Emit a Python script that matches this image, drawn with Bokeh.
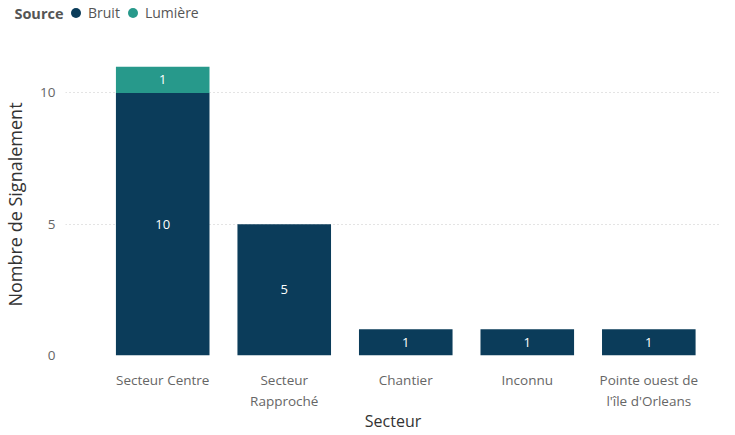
from bokeh.plotting import figure
from bokeh.layouts import column
from bokeh.models import ColumnDataSource, Range1d, FixedTicker, Legend, LegendItem
from bokeh.core.properties import value
from bokeh.embed import file_html
from bokeh.resources import INLINE

secteurs = ["Secteur Centre", "Secteur\nRapproché", "Chantier", "Inconnu", "Pointe ouest de\nl'île d'Orleans"]
bruit = [10, 5, 1, 1, 1]
lumiere = [1, 0, 0, 0, 0]
y_ticks = [0, 5, 10]
legend_title = "Source"
series_names = ["Bruit", "Lumière"]

C_BRUIT = "#0B3C5A"
C_LUM = "#27998B"
FONT = "Open Sans"

xs = list(range(len(secteurs)))

p = figure(frame_width=655, frame_height=302, output_backend="svg", toolbar_location=None,
           x_range=Range1d(-0.8, len(secteurs) - 1 + 0.59), y_range=Range1d(0, 11.5),
           min_border_left=57, min_border_right=7, min_border_top=27, min_border_bottom=0)
p.outline_line_color = None
p.background_fill_color = "white"
p.border_fill_color = "white"

src_b = ColumnDataSource(dict(x=xs, top=bruit, bottom=[0] * len(xs), mid=[b / 2 for b in bruit],
                              lab=[str(v) for v in bruit]))
p.vbar(x="x", top="top", bottom="bottom", width=0.77, source=src_b, fill_color=C_BRUIT, line_color=None)
p.text(x="x", y="mid", text="lab", source=src_b, text_color="white", text_font=value(FONT),
       text_font_size="13px", text_align="center", text_baseline="middle")

lx = [x for x, l in zip(xs, lumiere) if l > 0]
lb = [b for b, l in zip(bruit, lumiere) if l > 0]
lt = [b + l for b, l in zip(bruit, lumiere) if l > 0]
ll = [l for l in lumiere if l > 0]
src_l = ColumnDataSource(dict(x=lx, top=lt, bottom=lb, mid=[(a + b) / 2 for a, b in zip(lb, lt)],
                              lab=[str(v) for v in ll]))
p.vbar(x="x", top="top", bottom="bottom", width=0.77, source=src_l, fill_color=C_LUM, line_color=None)
p.text(x="x", y="mid", text="lab", source=src_l, text_color="white", text_font=value(FONT),
       text_font_size="13px", text_align="center", text_baseline="middle")

# axes
p.xaxis.ticker = FixedTicker(ticks=xs)
p.xaxis.major_label_overrides = {i: s for i, s in enumerate(secteurs)}
p.xaxis.axis_label = "Secteur"
p.yaxis.ticker = FixedTicker(ticks=y_ticks)
p.yaxis.axis_label = "Nombre de Signalement"
for ax in (p.xaxis, p.yaxis):
    ax.axis_line_color = None
    ax.major_tick_line_color = None
    ax.minor_tick_line_color = None
    ax.major_tick_out = 0
    ax.major_tick_in = 0
    ax.major_label_text_font = FONT
    ax.major_label_text_font_size = "13.5px"
    ax.major_label_text_color = "#666666"
    ax.axis_label_text_font = FONT
    ax.axis_label_text_font_style = "normal"
    ax.axis_label_text_color = "#333333"
p.xaxis.axis_label_text_font_size = "16px"
p.yaxis.axis_label_text_font_size = "18px"
p.xaxis.major_label_standoff = 15
p.xaxis.axis_label_standoff = -3
p.yaxis.major_label_standoff = 10
p.yaxis.axis_label_standoff = 10

p.xgrid.grid_line_color = None
p.ygrid.grid_line_color = "#C8C8C8"
p.ygrid.grid_line_dash = "1 3"
p.ygrid.grid_line_width = 1

# header with legend (frame aligned with the main frame by the column layout)
h = figure(width=719, height=26, output_backend="svg", toolbar_location=None,
           x_range=Range1d(0, 1), y_range=Range1d(0, 1), min_border=0)
h.xaxis.visible = False
h.grid.visible = False
h.outline_line_color = None
# the legend title "Source" is drawn as the header's only y-axis tick label (outside the frame, not clipped)
h.yaxis.ticker = FixedTicker(ticks=[0.5])
h.yaxis.major_label_overrides = {0.5: legend_title}
h.yaxis.axis_line_color = None
h.yaxis.major_tick_line_color = None
h.yaxis.minor_tick_line_color = None
h.yaxis.major_tick_out = 0
h.yaxis.major_tick_in = 0
h.yaxis.major_label_standoff = 2
h.yaxis.major_label_text_font = FONT
h.yaxis.major_label_text_font_size = "14.5px"
h.yaxis.major_label_text_font_style = "bold"
h.yaxis.major_label_text_color = "#555555"

# hidden dummy points (outside the header's range) so the legend can draw its circles
r1 = h.scatter([-1], [-1], marker="circle", size=10, fill_color=C_BRUIT, line_color=None)
r2 = h.scatter([-1], [-1], marker="circle", size=10, fill_color=C_LUM, line_color=None)

legend = Legend(items=[LegendItem(label=series_names[0], renderers=[r1]),
                       LegendItem(label=series_names[1], renderers=[r2])],
                orientation="horizontal", location=(-2, 1), padding=0, margin=0, spacing=0,
                glyph_width=25, glyph_height=25, label_height=20, label_standoff=0,
                label_text_font=FONT, label_text_font_size="14px", label_text_color="#555555",
                label_text_baseline="middle",
                background_fill_alpha=0, border_line_color=None)
h.add_layout(legend, "center")

open("out.html", "w").write(file_html(column(h, p, spacing=0), INLINE))
